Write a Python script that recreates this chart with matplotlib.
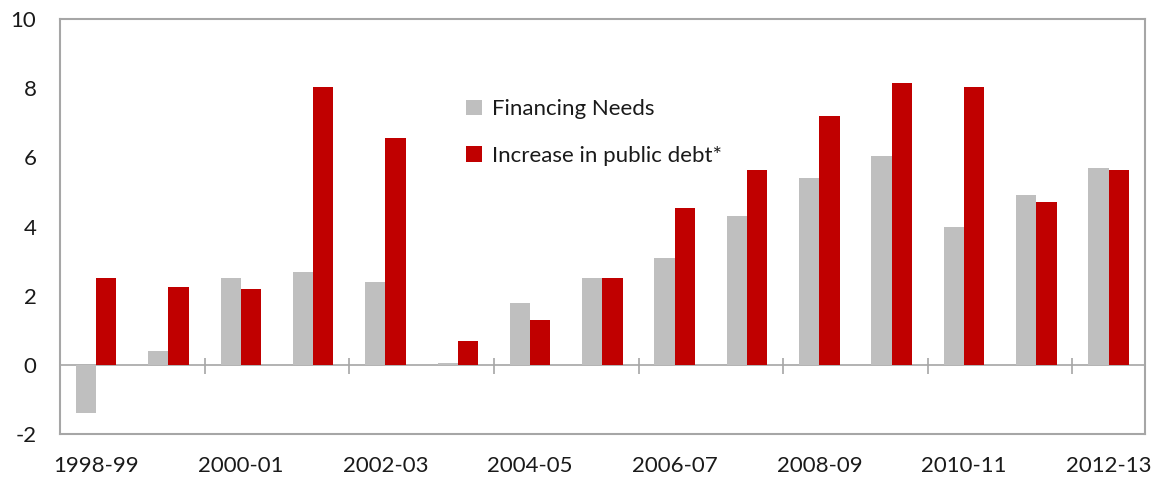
import matplotlib

matplotlib.use("Agg")

import matplotlib.pyplot as plt
import numpy as np

plt.rcParams["font.family"] = ["Lato", "DejaVu Sans"]
plt.rcParams["axes.unicode_minus"] = False
plt.rcParams["text.color"] = "#1a1a1a"
plt.rcParams["xtick.color"] = "#1a1a1a"
plt.rcParams["ytick.color"] = "#1a1a1a"

years = ["1998-99", "1999-00", "2000-01", "2001-02", "2002-03", "2003-04", "2004-05", "2005-06",
         "2006-07", "2007-08", "2008-09", "2009-10", "2010-11", "2011-12", "2012-13"]
financing_needs = [-1.4, 0.4, 2.5, 2.7, 2.4, 0.05, 1.8, 2.5, 3.1, 4.3, 5.4, 6.05, 4.0, 4.9, 5.7]
debt_increase = [2.5, 2.25, 2.2, 8.05, 6.55, 0.7, 1.3, 2.5, 4.55, 5.65, 7.2, 8.15, 8.05, 4.7, 5.65]

GREY = "#bfbfbf"
RED = "#c00000"
FRAME = "#a6a6a6"
FS = 16

fig = plt.figure(figsize=(11.54, 4.78), dpi=100)
ax = fig.add_axes([0.052, 0.092, 0.940, 0.868])

x = np.arange(len(years))
w = 0.28
ax.bar(x - w / 2, financing_needs, width=w, color=GREY, label="Financing Needs", zorder=2)
ax.bar(x + w / 2, debt_increase, width=w, color=RED, label="Increase in public debt*", zorder=2)

ax.set_xlim(-0.5, len(years) - 0.5)
ax.set_ylim(-2, 10)
ax.set_yticks(np.arange(-2, 11, 2))

# zero line with Excel-style category ticks every two years
ax.axhline(0, color=FRAME, linewidth=1.2, zorder=1)
ax.vlines(np.arange(1.5, len(years) - 1, 2), -0.25, 0.2, color=FRAME, linewidth=1.2, zorder=1)

ax.set_xticks(x[::2])
ax.set_xticklabels(years[::2])
ax.tick_params(axis="x", length=0, pad=16, labelsize=FS)
ax.tick_params(axis="y", length=0, pad=17, labelsize=FS)

for side in ax.spines.values():
    side.set_color(FRAME)
    side.set_linewidth(1.5)

ax.legend(loc="upper left", bbox_to_anchor=(0.356, 0.855), frameon=False, fontsize=FS,
          handlelength=0.7, handleheight=0.7, handletextpad=0.45, labelspacing=1.2)

fig.savefig("out.png", dpi=100)
plt.close(fig)
